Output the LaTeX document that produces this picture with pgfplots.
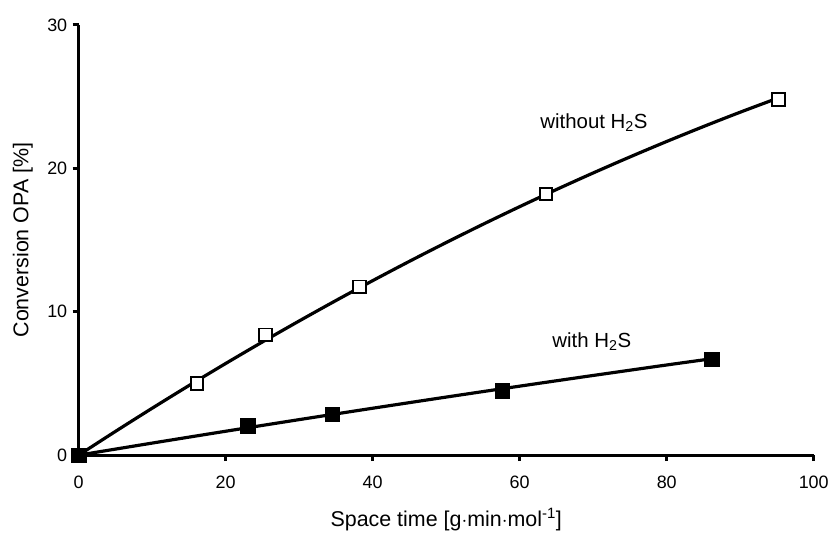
\documentclass[border=0pt]{standalone}
\usepackage{fontspec}
\setmainfont{Liberation Sans}
\usepackage{pgfplots}
\pgfplotsset{compat=1.18}
\begin{document}
\begin{tikzpicture}
\begin{axis}[
  scale only axis, width=738pt, height=432pt,
  xmin=0, xmax=100, ymin=0, ymax=30,
  axis x line=bottom, axis y line=left,
  axis line style={-, line width=3.2pt},
  xtick={0,20,40,60,80,100}, ytick={0,10,20,30},
  tick align=outside, major tick length=6pt,
  tick style={line width=2.8pt, black},
  /pgf/number format/assume math mode=true,
  tick label style={font=\fontsize{18}{21}\selectfont},
  xticklabel style={anchor=center, yshift=-21pt},
  yticklabel style={anchor=east, xshift=-2pt},
  label style={font=\fontsize{21.5}{25}\selectfont},
  xlabel={Space time [g$\cdot$min$\cdot$mol\textsuperscript{-1}]},
  ylabel={Conversion OPA [\%]},
  xlabel style={at={(axis description cs:0.5,-0.150)}, anchor=center},
  ylabel style={at={(axis description cs:-0.0759,0.5)}, anchor=center},
  clip=false,
]
% fitted curves
\addplot[black, line width=3.2pt, smooth, no marks] coordinates {
(0,0) (5,1.656) (10,3.273) (15,4.852) (20,6.392) (25,7.894) (30,9.357) (35,10.782) (40,12.168) (45,13.516) (50,14.825) (55,16.096) (60,17.328) (65,18.522) (70,19.677) (75,20.794) (80,21.872) (85,22.912) (90,23.913) (95.2,24.91)};
\addplot[black, line width=3.2pt, smooth, no marks] coordinates {
(0,0) (10,0.842) (20,1.668) (30,2.478) (40,3.272) (50,4.05) (60,4.812) (70,5.558) (80,6.288) (86.1,6.72)};
% data points
\addplot[only marks, mark=square*, mark size=6.2pt, mark options={fill=white, draw=black, line width=1.9pt}] coordinates {
(16.1,5.0) (25.4,8.4) (38.2,11.75) (63.6,18.2) (95.2,24.8)};
\addplot[only marks, mark=square*, mark size=7.3pt, mark options={fill=black, draw=black}] coordinates {
(0,0) (23.0,2.06) (34.5,2.85) (57.6,4.5) (86.1,6.7)};
\node[font=\fontsize{20.5}{24}\selectfont] at (axis cs:70.1,23.2) {without H\textsubscript{2}S};
\node[font=\fontsize{20.5}{24}\selectfont] at (axis cs:69.8,7.9) {with H\textsubscript{2}S};
\end{axis}
\path ([xshift=-79pt,yshift=-76pt]current axis.south west) rectangle ([xshift=15pt,yshift=25pt]current axis.north east);
\end{tikzpicture}
\end{document}
